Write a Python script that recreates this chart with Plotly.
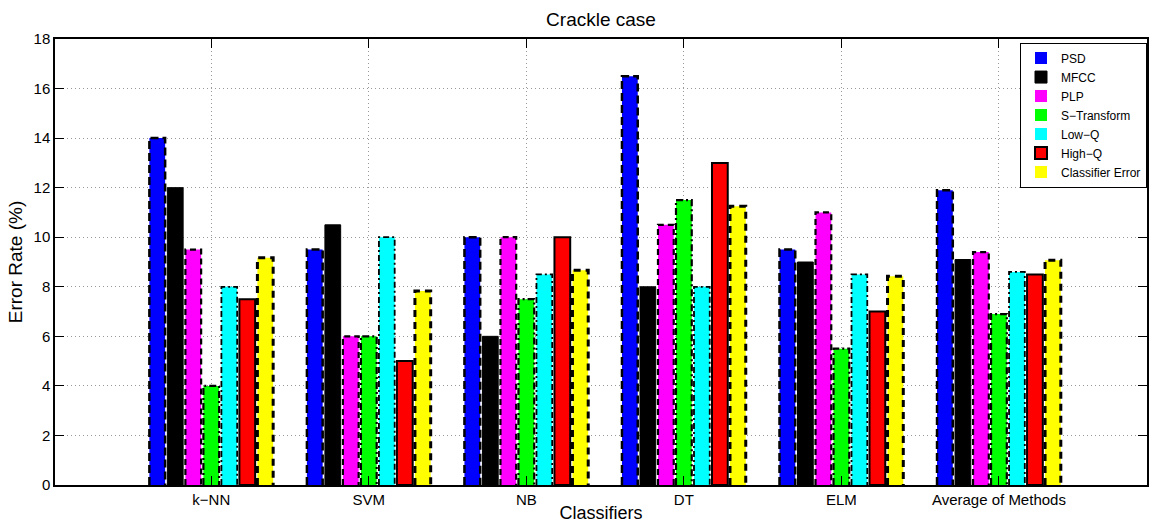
import plotly.graph_objects as go

# ---- data ----
classifiers = ["k\u2212NN", "SVM", "NB", "DT", "ELM", "Average of Methods"]
series_names = ["PSD", "MFCC", "PLP", "S\u2212Transform", "Low\u2212Q", "High\u2212Q", "Classifier Error"]
psd = [14, 9.5, 10, 16.5, 9.5, 11.9]
mfcc = [12, 10.5, 6, 8, 9, 9.1]
plp = [9.5, 6, 10, 10.5, 11, 9.4]
s_transform = [4, 6, 7.5, 11.5, 5.5, 6.9]
low_q = [8, 10, 8.5, 8, 8.5, 8.6]
high_q = [7.5, 5, 10, 13, 7, 8.5]
classifier_error = [9.17, 7.83, 8.67, 11.25, 8.42, 9.07]
y_ticks = [0, 2, 4, 6, 8, 10, 12, 14, 16, 18]

series_values = [psd, mfcc, plp, s_transform, low_q, high_q, classifier_error]
colors = ["#0000FF", "#000000", "#FF00FF", "#00FF00", "#00FFFF", "#FF0000", "#FFFF00"]
# outline style: (dash, width) for dashed outlines drawn as lines; None -> solid bar edge
outline = [("8px,4px", 2.5), None, ("6px,4px", 2.2), ("7px,3px,2px,3px", 2.2),
           ("6px,3px,2px,3px", 1.8), None, ("7px,5px", 3)]
solid_edge = [0, 1, 0, 0, 0, 2, 0]

FONT = "Liberation Sans, Arial, Helvetica, sans-serif"
groups = list(range(1, len(classifiers) + 1))
n = len(series_names)
slot = 0.8 / n
bar_w = 0.1

fig = go.Figure()
for k in range(n):
    off = (k - (n - 1) / 2) * slot
    fig.add_trace(go.Bar(
        x=groups, y=series_values[k], name=series_names[k],
        width=bar_w, offset=off - bar_w / 2,
        marker=dict(color=colors[k],
                    line=dict(color="black", width=solid_edge[k])),
    ))

for k in range(n):
    if outline[k] is None:
        continue
    off = (k - (n - 1) / 2) * slot
    xs, ys = [], []
    for g, v in zip(groups, series_values[k]):
        xl = g + off - bar_w / 2
        xr = g + off + bar_w / 2
        xs += [xl, xl, xr, xr, None]
        ys += [0, v, v, 0, None]
    dash, w = outline[k]
    fig.add_trace(go.Scatter(x=xs, y=ys, mode="lines", showlegend=False,
                             hoverinfo="skip",
                             line=dict(color="black", width=w, dash=dash)))

fig.update_layout(
    width=1152, height=523,
    margin=dict(l=55, r=5, t=39, b=38),
    paper_bgcolor="white", plot_bgcolor="white",
    barmode="overlay",
    font=dict(family=FONT, color="black", size=15),
    title=dict(text="Crackle case", x=0.5, xref="paper", y=1 - 19 / 523,
               yanchor="middle", xanchor="center",
               font=dict(size=19, color="black", family=FONT)),
    legend=dict(x=1, y=0.992, xanchor="right", yanchor="top",
                bgcolor="white", bordercolor="black", borderwidth=1,
                font=dict(size=12, color="black", family=FONT),
                tracegroupgap=0, itemwidth=30),
    showlegend=True,
)
fig.update_xaxes(
    range=[0.008, 6.94], tickmode="array", tickvals=groups, ticktext=classifiers,
    ticks="inside", ticklen=9, tickcolor="black", mirror="ticks",
    showline=True, linecolor="black", linewidth=1.5,
    showgrid=True, gridcolor="#999999", griddash="1px,3px", gridwidth=1,
    zeroline=False, automargin=False,
    tickfont=dict(size=15, color="black"),
    title=dict(text="Classifiers", standoff=5, font=dict(size=18, color="black")),
)
fig.update_yaxes(
    range=[0, 18], tickmode="array", tickvals=y_ticks,
    ticks="inside", ticklen=9, tickcolor="black", mirror="ticks",
    showline=True, linecolor="black", linewidth=1.5,
    showgrid=True, gridcolor="#999999", griddash="1px,3px", gridwidth=1,
    zeroline=False, automargin=False,
    tickfont=dict(size=15, color="black"),
    title=dict(text="Error Rate (%)", standoff=6, font=dict(size=19, color="black")),
)

fig.write_html("out.html")
